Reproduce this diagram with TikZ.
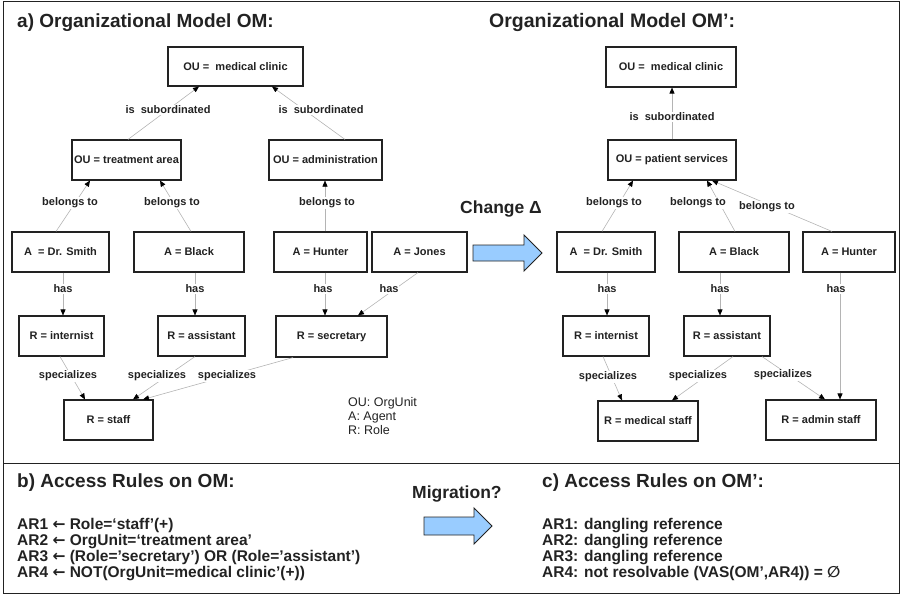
\documentclass[tikz,border=0pt]{standalone}
\usepackage{fontspec}
\setmainfont{Liberation Sans}
\newfontfamily\symfont{DejaVu Sans}
\usepackage{tikz}
\usetikzlibrary{arrows.meta,calc,positioning}
\definecolor{inkDark}{HTML}{222222}
\definecolor{edgeGray}{HTML}{B4B4B4}
\definecolor{arrowBlue}{HTML}{99CCFF}
\newcommand{\ruleArrow}{{\symfont\bfseries ←}}

\begin{document}
\begin{tikzpicture}[x=1pt,y=-1pt,
  box/.style={draw=inkDark,line width=1.1pt,fill=white,inner sep=0pt,text=inkDark,
    font=\bfseries\fontsize{11}{13}\selectfont},
  boxsize/.style 2 args={minimum width=#1pt,minimum height=#2pt},
  lbl/.style={fill=white,inner sep=1pt,text=inkDark,font=\bfseries\fontsize{11}{13}\selectfont},
  rel/.style={draw=edgeGray,line width=0.6pt,-{Triangle[length=6pt,width=5pt,color=black]}},
  heading/.style={anchor=base west,inner sep=0pt,text=inkDark,font=\bfseries\fontsize{19}{22}\selectfont},
  rules/.style={anchor=north west,align=left,inner sep=0pt,text=inkDark,
    font=\bfseries\fontsize{15.5}{16}\selectfont},
  bigarrow/.style={draw=inkDark,line width=0.9pt,fill=arrowBlue,line join=miter}]
  \useasboundingbox (0,0) rectangle (901,596);
  \draw[inkDark,line width=1pt] (3,2) rectangle (899,593);
  \draw[inkDark,line width=1pt] (3,463) -- (899,463);

  % titles
  \node[heading] (titleA) at (17,28) {a) Organizational Model OM:};
  \node[heading,font=\bfseries\fontsize{19.5}{22}\selectfont] (titleA2) at (489,28)
    {Organizational Model OM’:};
  \node[heading] (titleB) at (17,487) {b) Access Rules on OM:};
  \node[heading] (titleC) at (542,487) {c) Access Rules on OM’:};

  % model OM
  \node[box,boxsize={135}{39}] (clinicL) at (235.5,66.5) {OU =\ \ medical clinic};
  \node[box,boxsize={109}{40}] (treatL) at (126.5,160) {OU = treatment area};
  \node[box,boxsize={113}{40}] (adminL) at (325.5,160) {OU = administration};
  \node[box,boxsize={97}{40}] (smithL) at (60.5,252) {A\ \ = Dr. Smith};
  \node[box,boxsize={110}{40}] (blackL) at (189,252) {A = Black};
  \node[box,boxsize={93}{40}] (hunterL) at (320.5,252) {A = Hunter};
  \node[box,boxsize={95}{40}] (jonesL) at (419.5,252) {A = Jones};
  \node[box,boxsize={85}{40}] (internL) at (61.5,336) {R = internist};
  \node[box,boxsize={87}{40}] (assistL) at (201.5,336) {R = assistant};
  \node[box,boxsize={111}{41}] (secrL) at (331.5,336.5) {R = secretary};
  \node[box,boxsize={89}{40}] (staffL) at (108.5,420) {R = staff};

  \draw[rel] ([xshift=1.5pt]treatL.north) -- ([xshift=-36.5pt]clinicL.south);
  \draw[rel] ([xshift=19.5pt]adminL.north) -- ([xshift=36.5pt]clinicL.south);
  \draw[rel] ([xshift=-4.5pt]smithL.north) -- ([xshift=-36.5pt]treatL.south);
  \draw[rel] ([xshift=2pt]blackL.north) -- ([xshift=33.5pt]treatL.south);
  \draw[rel] ([xshift=4.5pt]hunterL.north) -- ([xshift=-0.5pt]adminL.south);
  \draw[rel] ([xshift=2.5pt]smithL.south) -- ([xshift=1.5pt]internL.north);
  \draw[rel] ([xshift=6pt]blackL.south) -- ([xshift=-6.5pt]assistL.north);
  \draw[rel] ([xshift=4.5pt]hunterL.south) -- ([xshift=-6.5pt]secrL.north);
  \draw[rel] ([xshift=-1.5pt]jonesL.south) -- ([xshift=26.5pt]secrL.north);
  \draw[rel] ([xshift=-1.5pt]internL.south) -- ([xshift=-23.5pt]staffL.north);
  \draw[rel] ([xshift=-6.5pt]assistL.south) -- ([xshift=24.5pt]staffL.north);
  \draw[rel] ([xshift=-38.5pt]secrL.south) -- ([xshift=34.5pt]staffL.north);

  \node[lbl] (subL1) at (168,110) {is\ \ subordinated};
  \node[lbl] (subL2) at (321,110) {is\ \ subordinated};
  \node[lbl] (belL1) at (70,203) {belongs to};
  \node[lbl] (belL2) at (172,203) {belongs to};
  \node[lbl] (belL3) at (327,203) {belongs to};
  \node[lbl] (hasL1) at (63,289) {has};
  \node[lbl] (hasL2) at (195,289) {has};
  \node[lbl] (hasL3) at (323,289) {has};
  \node[lbl] (hasL4) at (389,289) {has};
  \node[lbl] (speL1) at (68,376) {specializes};
  \node[lbl] (speL2) at (157,376) {specializes};
  \node[lbl] (speL3) at (227,376) {specializes};

  \node[anchor=north west,align=left,inner sep=0pt,text=inkDark,
    font=\fontsize{12.5}{14}\selectfont] (legend) at (348,397)
    {OU: OrgUnit\\A: Agent\\R: Role};

  % change
  \node[anchor=base west,inner sep=0pt,text=inkDark,
    font=\bfseries\fontsize{17.5}{20}\selectfont] (change) at (460,213) {Change Δ};
  \draw[bigarrow] (473,245) -- (524,245) -- (524,235) -- (542,253)
    -- (524,271) -- (524,261) -- (473,261) -- cycle;

  % model OM'
  \node[box,boxsize={130}{40}] (clinicR) at (671,67) {OU =\ \ medical clinic};
  \node[box,boxsize={128}{40}] (servR) at (672,160) {OU = patient services};
  \node[box,boxsize={98}{40}] (smithR) at (606,252) {A\ \ = Dr. Smith};
  \node[box,boxsize={110}{40}] (blackR) at (734,252) {A = Black};
  \node[box,boxsize={92}{40}] (hunterR) at (849,252) {A = Hunter};
  \node[box,boxsize={86}{40}] (internR) at (606,336) {R = internist};
  \node[box,boxsize={86}{40}] (assistR) at (727,336) {R = assistant};
  \node[box,boxsize={100}{40}] (medR) at (648,421) {R = medical staff};
  \node[box,boxsize={110}{40}] (adminR) at (821,420) {R = admin staff};

  \draw[rel] (servR.north) -- ([xshift=1pt]clinicR.south);
  \draw[rel] ([xshift=-4pt]smithR.north) -- ([xshift=-39pt]servR.south);
  \draw[rel] ([xshift=1pt]blackR.north) -- ([xshift=35pt]servR.south);
  \draw[rel] ([xshift=-17pt]hunterR.north) -- ([xshift=40pt]servR.south);
  \draw[rel] ([xshift=1pt]smithR.south) -- ([xshift=1pt]internR.north);
  \draw[rel] ([xshift=-14pt]blackR.south) -- ([xshift=-7pt]assistR.north);
  \draw[rel] ([xshift=-9pt]hunterR.south) -- ([xshift=19pt]adminR.north);
  \draw[rel] ([xshift=-3pt]internR.south) -- ([xshift=-26pt]medR.north);
  \draw[rel] ([xshift=6pt]assistR.south) -- ([xshift=24pt]medR.north);
  \draw[rel] ([xshift=35pt]assistR.south) -- ([xshift=4pt]adminR.north);

  \node[lbl] (subR1) at (672,117) {is\ \ subordinated};
  \node[lbl] (belR1) at (614,203) {belongs to};
  \node[lbl] (belR2) at (698,203) {belongs to};
  \node[lbl] (belR3) at (767,207) {belongs to};
  \node[lbl] (hasR1) at (607,289) {has};
  \node[lbl] (hasR2) at (720,289) {has};
  \node[lbl] (hasR3) at (836,289) {has};
  \node[lbl] (speR1) at (608,377) {specializes};
  \node[lbl] (speR2) at (698,376) {specializes};
  \node[lbl] (speR3) at (783,375) {specializes};

  % access rules
  \node[rules] (rulesB) at (17,518)
    {AR1 \ruleArrow{} Role=‘staff’(+)\\
     AR2 \ruleArrow{} OrgUnit=‘treatment area’\\
     AR3 \ruleArrow{} (Role=’secretary’) OR (Role=’assistant’)\\
     AR4 \ruleArrow{} NOT(OrgUnit=medical clinic’(+))};
  \node[anchor=base west,inner sep=0pt,text=inkDark,
    font=\bfseries\fontsize{17.5}{20}\selectfont] (migr) at (412,498) {Migration?};
  \draw[bigarrow] (424,517) -- (474,517) -- (474,508) -- (492,526)
    -- (474,544) -- (474,535) -- (424,535) -- cycle;
  \node[rules] (rulesC) at (542,518)
    {AR1: dangling reference\\
     AR2: dangling reference\\
     AR3: dangling reference\\
     AR4: not resolvable (VAS(OM’,AR4)) = {\symfont ∅}};
\end{tikzpicture}
\end{document}
